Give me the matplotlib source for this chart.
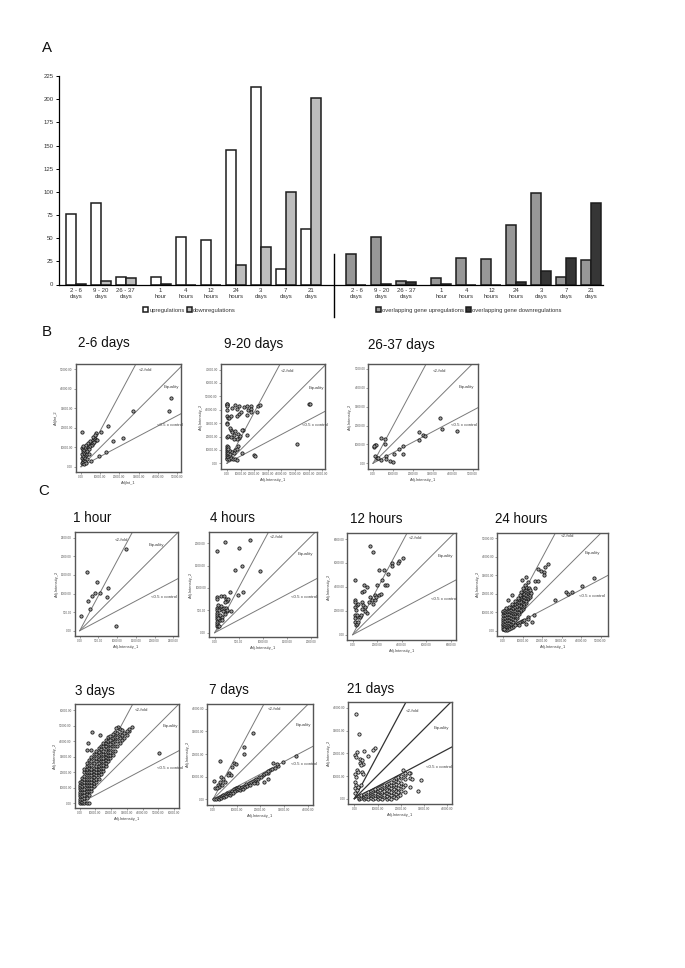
import numpy as np
import matplotlib
matplotlib.use("Agg")
import matplotlib.pyplot as plt
from matplotlib.lines import Line2D

W, H = 685, 968
plt.rcParams['font.family'] = ['Liberation Sans', 'DejaVu Sans']

# ---------- Panel A data ----------
bar_labels = ["2 - 6\ndays", "9 - 20\ndays", "26 - 37\ndays", "1\nhour", "4\nhours", "12\nhours",
              "24\nhours", "3\ndays", "7\ndays", "21\ndays"]
upregulations = [76, 88, 8, 8, 51, 48, 145, 213, 17, 60]
downregulations = [1, 4, 7, 1, 0, 0, 21, 40, 100, 201]
overlap_up = [33, 51, 4, 7, 29, 28, 64, 99, 8, 26]
overlap_down = [0, 1, 3, 1, 0, 0, 3, 15, 29, 88]
y_ticks_bar = [0, 25, 50, 75, 100, 125, 150, 175, 200, 225]

# ---------- Scatter data (read in tick steps of each panel) ----------
pts_2_6 = [(.07,1.8),(.8,1.75),(1.06,1.78),(1.43,2.09),(2.7,2.88),(4.71,3.5),(4.57,2.86),(2.2,1.49),(1.69,1.3),
 (1.3,.75),(.94,.55),(.54,.31),(.05,.2),(.08,.3),(.1,.25),(.12,.4),(.06,.45),(.15,.35),(.18,.5),(.1,.55),(.05,.65),
 (.2,.3),(.22,.45),(.25,.6),(.14,.7),(.08,.8),(.05,.95),(.1,.9),(.18,.85),(.24,.75),(.3,.65),(.28,.9),(.33,.8),
 (.36,1.0),(.2,1.0),(.12,1.05),(.28,1.1),(.4,.9),(.42,1.1),(.35,1.2),(.48,1.05),(.5,1.25),(.55,1.1),(.6,1.2),
 (.46,1.3),(.62,1.35),(.68,1.25),(.7,1.45),(.65,1.5),(.75,1.4),(.8,1.38),(.85,1.37),(.72,1.6),(.3,.4),(.4,.65),(.15,.15),(.25,.2)]
pts_9_20 = [(0,4.45),(0,4.35),(0,4.4),(.02,4.3),(0,3.97),(0,3.5),(.05,3.4),(.15,3.35),(.3,3.5),(.35,4.1),(.6,4.35),
 (.85,4.3),(.75,4.05),(.85,3.7),(.7,3.55),(1.0,3.85),(1.25,4.2),(1.5,4.3),(1.75,4.3),(1.55,3.95),(1.8,4.05),
 (1.45,3.6),(1.75,3.8),(2.2,3.85),(2.3,4.3),(2.4,4.35),(6.02,4.44),(6.08,4.44),(5.17,1.44),(1.98,.62),(2.05,.57),(1.07,.8),
 (0,3.0),(0,2.9),(.3,2.5),(.4,2.3),(0,2.0),(.1,2.05),(.3,1.95),(.5,2.1),(.6,2.4),(.8,2.2),(.9,1.9),(.7,1.8),(.95,2.05),
 (1.15,2.5),(1.1,2.45),(1.45,2.1),(.55,1.85),(.2,2.6),(0,1.3),(0,1.15),(0,1.0),(0,.85),(0,.7),(0,.55),(0,.4),(0,.3),
 (.05,1.2),(.05,.9),(.05,.6),(.1,1.05),(.1,.75),(.1,.45),(.15,.3),(.2,.95),(.2,.55),(.25,.7),(.3,.4),(.4,.85),(.45,.35),
 (.6,1.0),(.55,.8),(.6,.3),(.75,1.1),(.8,1.3),(.7,.25)]
pts_26_37 = [(.07,.87),(.08,.95),(.13,.99),(.07,.92),(.42,1.33),(.6,1.29),(.59,1.02),(.1,.39),(.18,.28),(.25,.27),(.4,.16),
 (.65,.39),(.67,.21),(.87,.11),(.99,.07),(1.06,.49),(1.33,.74),(1.53,.9),(1.53,.49),(2.3,1.63),(2.33,1.25),(2.5,1.5),
 (2.6,1.47),(3.39,2.4),(3.49,1.82),(4.21,1.71)]
pts_1h = [(.09,.79),(.39,3.18),(.54,1.16),(.45,1.57),(.64,1.88),(.82,2.05),(.95,2.61),(1.07,2.04),(1.46,1.82),(1.54,2.27),(1.93,.27),(2.45,4.38)]
pts_4h = [(.1,3.64),(.43,4.04),(.99,3.79),(1.46,4.13),(.86,2.78),(1.14,2.99),(1.9,2.76),(.97,1.69),(1.18,1.83),(.64,1.83),(.67,.98),
 (.08,1.6),(.08,1.5),(.25,1.62),(.4,1.65),(.45,1.5),(.5,1.4),(.42,1.35),(.55,1.5),(.08,1.1),(.08,1.0),(.1,.9),(.08,.8),(.1,.7),
 (.08,.6),(.08,.5),(.1,.4),(.08,.3),(.12,.3),(.18,.3),(.2,.55),(.25,.65),(.3,.7),(.2,.8),(.18,1.0),(.22,1.15),(.28,1.2),(.3,1.05),
 (.35,.95),(.38,1.1),(.45,1.1),(.5,.95),(.52,1.0),(.42,.85),(.3,.55),(.15,.65),(.13,1.25)]
pts_12h = [(.71,3.7),(.84,3.46),(.1,2.27),(1.09,2.71),(1.27,2.72),(2.04,3.22),(1.9,3.08),(1.84,3.0),(1.62,3.0),(1.59,2.89),(1.46,2.52),
 (1.2,2.29),(.98,2.09),(1.32,2.08),(1.39,2.08),(.48,2.08),(.57,2.01),(.39,1.79),(.48,1.83),(.71,1.56),(.91,1.65),(1.09,1.66),(1.16,1.69),
 (.8,1.45),(.91,1.45),(.94,1.56),(.84,1.27),(.6,.89),(.1,1.45),(.1,1.38),(.1,1.17),(.14,1.03),(.1,.82),(.1,.68),(.1,.54),(.14,.4),(.19,.45),
 (.23,.75),(.3,.75),(.34,.82),(.16,1.24),(.2,1.27),(.37,1.38),(.44,1.24),(.5,1.14),(.39,1.06),(.67,1.38),(.5,1.0),(.16,.82),(.23,.54)]
pts_24h_sparse = [(4.67,2.85),(4.05,2.4),(3.53,2.1),(3.22,2.1),(3.33,1.97),(2.66,1.65),(2.3,3.6),(2.17,3.46),(1.95,3.24),(1.78,3.32),(2.12,3.19),
 (2.09,3.01),(1.6,.88),(1.48,.47),(1.26,.77),(1.26,.63),(1.16,.36),(.97,2.74),(1.19,2.89),(1.26,2.65),(1.66,2.69),(1.78,2.71),(1.62,2.29),(.48,1.92),
 (.28,1.67),(.5,.2),(.7,.35),(.75,.45),(.85,.5),(.95,.55),(1.0,.55),(1.1,.6),(.6,.3),(.8,.3),(.4,.15),(.3,.1),(.2,.05),(.1,.05),(.05,.1),
 (.9,2.1),(1.05,2.3),(1.15,2.45),(1.32,2.3),(1.4,2.2),(1.45,2.05),(.75,1.75),(.6,1.6),(.45,1.45),(.15,1.25),(.3,1.3),(.85,1.95)]
rows_24h = {.02:[.1,.2,.3,.4,.5,.6,.7,.85,1.0,1.1], .1:[.1,.25,.4,.55,.7,.85,1.0,1.12], .2:[.1,.2,.3,.45,.6,.75,.9,1.05,1.2],
 .3:[.2,.3,.45,.6,.75,.9,1.1], .4:[.3,.4,.55,.7,.85,1.0,1.15,1.3], .5:[.4,.5,.65,.8,.95,1.1,1.25,1.4], .6:[.6,.8,.95,1.1,1.3,1.45],
 .7:[.7,.8,1.0,1.2,1.35,1.5,1.62], .8:[.9,1.0,1.2,1.4,1.55,1.72], .9:[1.05,1.15,1.35,1.55,1.75,1.9], 1.0:[1.2,1.3,1.5,1.7,1.95,2.05],
 1.1:[1.35,1.45,1.65,1.85,2.0,2.2], 1.2:[1.5,1.6,1.8,1.95,2.2,2.35], 1.3:[1.7,1.75,1.9,2.05,2.15], 1.4:[1.85,1.95,2.1]}
pts_3d_sparse = [(.77,4.58),(1.32,4.43),(.53,3.91),(.45,3.44),(.72,3.44),(5.04,3.23),(3.32,4.95),(3.0,4.69),(2.47,4.9),(2.32,4.84)]
rows_3d = {.02:[0,.15,.3,.45,.6,.75,.9,1.05,1.2,1.35], .15:[0,.1,.3,.5,.7,.9,1.1,1.3,1.45,1.65], .3:[0,.15,.35,.55,.75,.95,1.15,1.35,1.55,1.75,2.0,2.2],
 .45:[.05,.35,.6,.8,1.0,1.2,1.4,1.6,1.8,2.0,2.2,2.4,2.6], .6:[.05,.55,.8,1.0,1.2,1.4,1.6,1.8,2.0,2.25,2.5,2.8],
 .75:[.8,1.0,1.2,1.4,1.6,1.8,2.0,2.2,2.45,2.7,3.0], .9:[1.1,1.3,1.5,1.7,1.9,2.1,2.3,2.6,2.9,3.2],
 1.05:[1.4,1.6,1.8,2.0,2.2,2.4,2.7,2.95,3.2,3.4], 1.2:[1.6,1.8,2.0,2.2,2.4,2.6,2.85,3.1,3.3,3.6],
 1.35:[1.9,2.1,2.3,2.5,2.7,2.9,3.2,3.5,3.7], 1.5:[2.1,2.3,2.5,2.7,2.9,3.15,3.4,3.7,3.9], 1.65:[2.4,2.6,2.8,3.0,3.2,3.5,3.7,3.9,4.1],
 1.8:[2.7,2.9,3.1,3.3,3.55,3.8,4.05,4.3], 1.95:[2.9,3.1,3.3,3.6,3.85,4.1,4.35], 2.1:[3.1,3.4,3.7,3.95,4.2,4.45], 2.25:[3.4,3.7,4.0,4.3,4.6],
 2.4:[3.7,4.0,4.25,4.55], 2.55:[3.9,4.2,4.5,4.8], 2.7:[4.1,4.4,4.7], 2.85:[4.2,4.55], 3.0:[4.4], 3.15:[4.65,4.8]}
pts_7d = [(.28,1.7),(.04,.81),(.1,.5),(.89,1.59),(.97,1.55),(.82,1.42),(.68,1.15),(.76,1.08),(.62,1.08),(.32,1.0),(.41,.9),(.3,.78),(.2,.63),
 (.37,.63),(.25,.56),(.15,.49),(.5,.78),(1.31,1.99),(1.32,2.33),(1.69,2.95),(3.52,1.93),(2.94,1.65),(2.55,1.59),(2.76,1.47),(2.41,1.3),
 (2.34,1.15),(2.17,.75),(2.34,.9),(1.85,.74),(.05,.02),(.12,.03),(.2,.05),(.26,.02),(.3,.1),(.35,.06),(.4,.14),(.42,.2),(.48,.1),(.5,.2),
 (.55,.15),(.58,.28),(.62,.22),(.66,.3),(.7,.18),(.74,.34),(.78,.27),(.8,.38),(.85,.3),(.88,.44),(.92,.36),(.95,.5),(1.0,.4),(1.02,.5),
 (1.06,.46),(1.1,.55),(1.14,.42),(1.18,.5),(1.22,.56),(1.25,.45),(1.3,.6),(1.35,.53),(1.4,.66),(1.45,.6),(1.5,.7),(1.55,.62),(1.6,.76),
 (1.68,.8),(1.72,.7),(1.78,.86),(1.82,.92),(1.9,.9),(1.96,.98),(2.02,1.0),(2.1,1.08),(2.15,1.1),(2.22,1.18),(2.3,1.25),(2.48,1.32),(2.6,1.4),(2.7,1.55)]
pts_21d_sparse = [(.07,3.74),(.19,2.87),(.89,2.23),(.82,2.14),(.43,2.1),(.6,1.89),(.13,2.07),(.03,1.92),(.07,1.85),(.24,1.77),(.32,1.7),(.24,1.58),
 (.36,1.55),(.27,1.48),(.1,1.26),(.17,1.19),(.32,1.19),(.39,1.11),(.03,1.11),(.07,.97),(.03,.75),(.07,.6),(.03,.45),(.1,.38),(.03,.23),(.17,.53),(.27,.6),
 (2.88,.82),(2.76,.35),(2.5,.87),(2.35,1.14),(2.12,1.26),(1.97,.16),(2.12,.53),(2.4,.5)]
rows_21d = {.2:[0,.05,.1], .3:[.02,.1,.15], .4:[0,.08,.15,.2], .5:[.03,.13,.24], .6:[0,.1,.2,.3], .7:[.05,.15,.26,.34], .8:[0,.1,.2,.3,.4],
 .9:[.04,.15,.26,.38,.44], 1.0:[0,.1,.2,.35,.45], 1.1:[.05,.16,.28,.4,.52], 1.2:[0,.1,.2,.3,.45,.55], 1.3:[.06,.18,.34,.5,.62],
 1.4:[0,.12,.25,.4,.55,.65], 1.5:[.04,.2,.36,.5,.7], 1.6:[0,.15,.3,.45,.6,.75], 1.7:[.06,.24,.42,.62,.82], 1.8:[.05,.2,.35,.5,.65,.8,.9],
 1.9:[.1,.3,.48,.72,.94], 2.0:[.35,.55,.7,.9,1.0], 2.2:[.3,.6,.85,1.05,1.15], 2.4:[.9,1.15]}

def flat(rows, extra=()):
    xs = [x for x, ys in rows.items() for _ in ys] + [p[0] for p in extra]
    ys = [y for v in rows.values() for y in v] + [p[1] for p in extra]
    return xs, ys

# (title, points, tick unit, n x ticks, n y ticks, x label, y label)
panels = [
 ("2-6 days", pts_2_6, 10000, 6, 6, "AdjInt_1", "AdjInt_2"),
 ("9-20 days", pts_9_20, 10000, 8, 8, "Adj.Intensity_1", "Adj.Intensity_2"),
 ("26-37 days", pts_26_37, 1000, 6, 6, "Adj.Intensity_1", "Adj.Intensity_2"),
 ("1 hour", pts_1h, 500, 6, 6, "Adj.Intensity_1", "Adj.Intensity_2"),
 ("4 hours", pts_4h, 500, 5, 5, "Adj.Intensity_1", "Adj.Intensity_2"),
 ("12 hours", pts_12h, 2000, 5, 5, "Adj.Intensity_1", "Adj.Intensity_2"),
 ("24 hours", flat(rows_24h, pts_24h_sparse), 10000, 6, 6, "Adj.Intensity_1", "Adj.Intensity_2"),
 ("3 days", flat(rows_3d, pts_3d_sparse), 10000, 7, 7, "Adj.Intensity_1", "Adj.Intensity_2"),
 ("7 days", pts_7d, 10000, 5, 5, "Adj.Intensity_1", "Adj.Intensity_2"),
 ("21 days", flat(rows_21d, pts_21d_sparse), 10000, 5, 5, "Adj.Intensity_1", "Adj.Intensity_2"),
]

# ---------- Layout (pixels): box L,R,T,B / origin x,y / step x,y / title x, baseline ----------
layout = {
 "2-6 days": ((75.7,181.3,364.3,472), (81,466.7), (19.2,19.5), (77.7,347)),
 "9-20 days": ((220.7,325,364.3,469), (227,463.3), (13.6,13.4), (224,348)),
 "26-37 days": ((368.3,478,364.3,469), (373,463.3), (19.9,18.9), (368,348.7)),
 "1 hour": ((74.7,177.7,532.3,635.7), (79.7,630.7), (18.7,18.6), (72.7,522)),
 "4 hours": ((209,316.7,532.3,636.7), (214.7,632.7), (24.1,22.4), (210,522)),
 "12 hours": ((347.3,456,533.3,640), (352.7,634.7), (24.5,23.9), (350,522.7)),
 "24 hours": ((497.3,608.3,532.7,636), (503,631), (19.5,18.6), (494.7,522.7)),
 "3 days": ((74.7,179,704.3,808.3), (79.7,803.3), (15.7,15.5), (75.3,695)),
 "7 days": ((207.3,313.3,704,804.7), (213,799.3), (23.7,22.6), (208.7,693.7)),
 "21 days": ((348.3,452,702.3,804), (354.3,798.7), (23.2,22.7), (347,692.7)),
}
# annotation positions (tick steps): 2-fold, equality, 0.5x
notes = {
 "2-6 days": ((3.0,4.95),(4.3,4.1),(3.95,2.15)),
 "9-20 days": ((3.95,6.9),(6.0,5.6),(5.5,2.85)),
 "26-37 days": ((3.0,4.9),(4.3,4.05),(3.9,2.0)),
 "1 hour": ((1.85,4.9),(3.7,4.6),(3.8,1.8)),
 "4 hours": ((2.3,4.25),(3.45,3.5),(3.15,1.6)),
 "12 hours": ((2.3,4.05),(3.45,3.3),(3.2,1.5)),
 "24 hours": ((2.95,5.1),(4.2,4.2),(3.9,1.9)),
 "3 days": ((3.5,6.05),(5.3,5.0),(4.9,2.3)),
 "7 days": ((2.3,3.98),(3.5,3.3),(3.3,1.58)),
 "21 days": ((2.2,3.85),(3.4,3.1),(3.07,1.4)),
}
SLOPES = (1.87, 1.0, 0.53)
NOTE_TEXT = ("<2-fold", "Equality", "<0.5 x control")

fig = plt.figure(figsize=(W/100, H/100), dpi=100, facecolor="white")

def px_axes(L, R, T, B):
    return fig.add_axes([L/W, 1-B/H, (R-L)/W, (B-T)/H])

# ---------- Panel A ----------
slot = 25.0
x0_px = 75.7
first = np.arange(10) + (np.arange(10) >= 3) * 0.4
second = first + 11.23
ax = px_axes(59, 603, 76, 284.5)
ax.set_xlim((59-x0_px)/slot, (603-x0_px)/slot)
ax.set_ylim(0, 225)
bw = 0.4
edge = "#1c1c1c"
b1 = ax.bar(first-bw/2, upregulations, bw, color="white", edgecolor=edge, lw=1.1, label="upregulations")
b2 = ax.bar(first+bw/2, downregulations, bw, color="#bdbdbd", edgecolor=edge, lw=1.1, label="downregulations")
b3 = ax.bar(second-bw/2, overlap_up, bw, color="#979797", edgecolor=edge, lw=1.1, label="overlapping gene upregulations")
b4 = ax.bar(second+bw/2, overlap_down, bw, color="#363636", edgecolor=edge, lw=1.1, label="overlapping gene downregulations")
ax.spines[['top', 'right']].set_visible(False)
ax.spines['left'].set_linewidth(0.9)
ax.spines['bottom'].set_linewidth(0.9)
ax.set_yticks(y_ticks_bar)
ax.tick_params(axis='y', labelsize=4.3, length=2, width=0.7, pad=2, labelcolor="#333333")
ax.set_xticks(np.r_[first, second])
ax.set_xticklabels(bar_labels*2, linespacing=1.35)
ax.tick_params(axis='x', labelsize=4.3, length=0, pad=2.5, labelcolor="#333333")
legends = []
for hs, cx in (((b1, b2), 189.5/W), ((b3, b4), 468.5/W)):
    leg = ax.legend(handles=list(hs), loc="center", bbox_to_anchor=(cx, 1-310/H), bbox_transform=fig.transFigure,
                    ncols=2, frameon=False, fontsize=4.2, handlelength=0.85, handleheight=0.85,
                    columnspacing=0.4, handletextpad=0.15, labelcolor="#333333", borderpad=0)
    legends.append(leg)
ax.legend_ = None
for leg in legends:
    ax.add_artist(leg)
fig.add_artist(Line2D([334.3/W]*2, [1-254/H, 1-316.7/H], color="black", lw=1.0))

# ---------- Panel letters ----------
for s, xp, yp in (("A", 41.5, 51.5), ("B", 41.5, 335.7), ("C", 38.5, 495)):
    fig.text(xp/W, 1-yp/H, s, fontsize=10.8, color="#111111", va="baseline")

# ---------- Scatter panels ----------
for title, pts, unit, nx, ny, xl, yl in panels:
    (L, R, T, B), (ox, oy), (sx, sy), (tx, ty) = layout[title]
    if isinstance(pts, tuple):
        xs, ys = pts
    else:
        xs, ys = zip(*pts)
    a = px_axes(L, R, T, B)
    a.set_xlim((L-ox)/sx*unit, (R-ox)/sx*unit)
    a.set_ylim((oy-B)/sy*unit, (oy-T)/sy*unit)
    strong = title == "21 days"
    lc = "#333333" if strong else "#7a7a7a"
    xx = np.array([0, (R-ox)/sx*unit])
    ratio = sy/sx  # slopes are read in pixels, data units follow the panel's steps
    for sl in SLOPES:
        a.plot(xx, xx*sl/ratio, color=lc, lw=0.9 if strong else 0.7, zorder=1)
    fc = "#d0d0d0" if strong else "#a0a0a0"
    a.scatter(np.array(xs)*unit, np.array(ys)*unit, s=5.5, facecolor=fc, edgecolor="#1a1a1a", lw=0.6, zorder=2)
    for sp in a.spines.values():
        sp.set_linewidth(1.0)
        sp.set_color("#555555")
    xt = np.arange(nx)*unit
    yt = np.arange(ny)*unit
    a.set_xticks(xt)
    a.set_yticks(yt)
    a.set_xticklabels([f"{v:.2f}" for v in xt])
    a.set_yticklabels([f"{v:.2f}" for v in yt])
    a.tick_params(labelsize=2.2, length=1.2, width=0.4, pad=1, color="#555555", labelcolor="#555555")
    a.set_xlabel(xl, fontsize=2.9, color="#444444", labelpad=1.5)
    a.set_ylabel(yl, fontsize=2.9, color="#444444", labelpad=1.5)
    for s, (nxp, nyp) in zip(NOTE_TEXT, notes[title]):
        a.text(nxp*unit, nyp*unit, s, fontsize=3.2, color="#444444", ha="left", va="center", zorder=3)
    fig.text(tx/W, 1-ty/H, title, fontsize=9.75, color="#111111", va="baseline")

fig.savefig("out.png", dpi=100)
